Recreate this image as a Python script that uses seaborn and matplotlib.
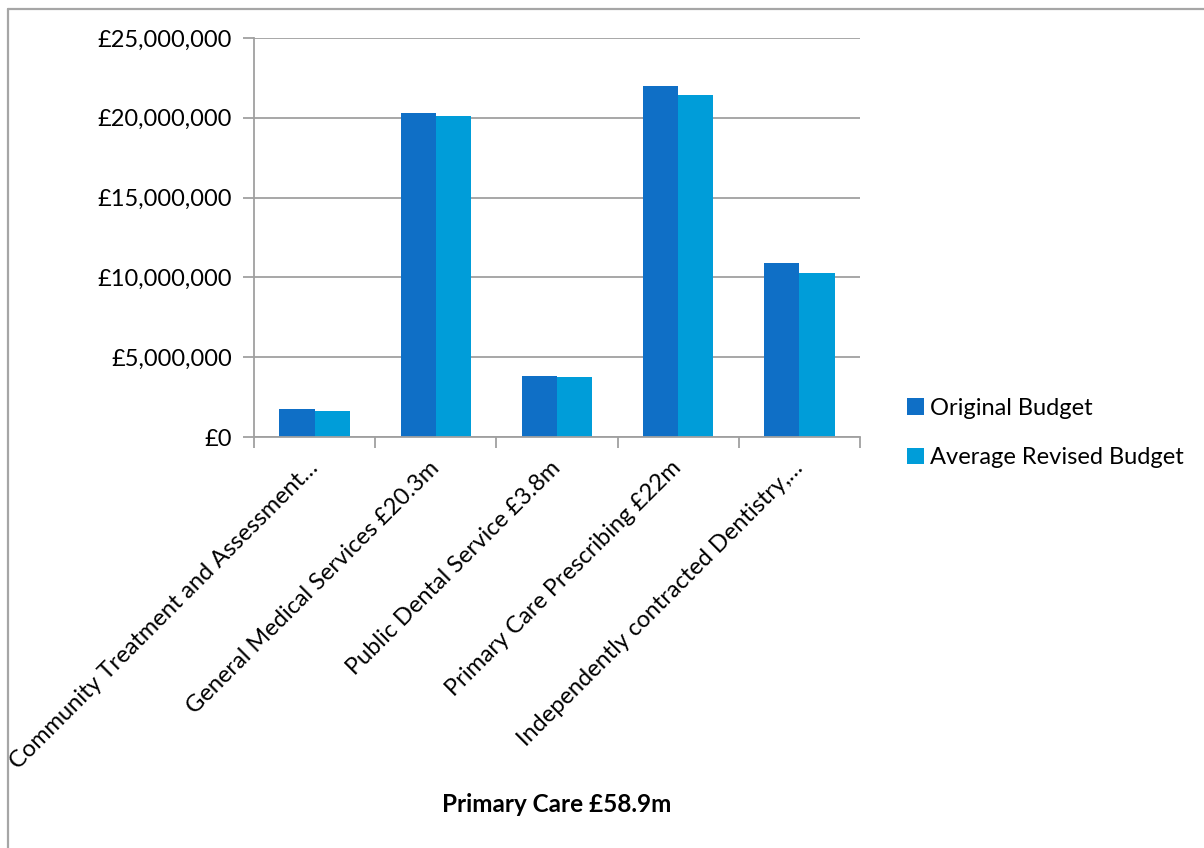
import matplotlib
matplotlib.use("Agg")
import matplotlib.pyplot as plt
import matplotlib.ticker as mticker
from matplotlib.lines import Line2D
from matplotlib.patches import Patch
import seaborn as sns
import pandas as pd

categories = [
    "Community Treatment and Assessment…",
    "General Medical Services £20.3m",
    "Public Dental Service £3.8m",
    "Primary Care Prescribing £22m",
    "Independently contracted Dentistry,…",
]
original_budget = [1740000, 20320000, 3840000, 21990000, 10900000]
revised_budget = [1650000, 20090000, 3780000, 21430000, 10290000]
series_names = ["Original Budget", "Average Revised Budget"]
series_colors = ["#0F6FC6", "#009DD9"]
y_ticks = [0, 5000000, 10000000, 15000000, 20000000, 25000000]
x_title = "Primary Care £58.9m"

df = pd.DataFrame({
    "category": categories * 2,
    "value": original_budget + revised_budget,
    "series": [series_names[0]] * len(categories) + [series_names[1]] * len(categories),
})

sns.set_theme(style="white")
plt.rcParams["font.family"] = ["Lato", "DejaVu Sans"]
plt.rcParams["text.color"] = "black"
plt.rcParams["xtick.color"] = "black"
plt.rcParams["ytick.color"] = "black"
plt.rcParams["axes.labelcolor"] = "black"
fs = 17

fig = plt.figure(figsize=(12.04, 8.48), dpi=100)
ax = fig.add_axes([254 / 1204, 1 - 437 / 848, (860 - 254) / 1204, (437 - 38) / 848])

sns.barplot(data=df, x="category", y="value", hue="series", order=categories,
            hue_order=series_names, palette=series_colors, width=0.58,
            saturation=1, edgecolor="none", linewidth=0, ax=ax, legend=False)

grid_c = "#A0A0A0"
ax.set_ylim(0, 25000000)
ax.set_xlim(-0.5, len(categories) - 0.5)
ax.set_yticks(y_ticks)
ax.yaxis.set_major_formatter(mticker.FuncFormatter(lambda v, p: f"£{int(v):,}"))
ax.grid(axis="y", color=grid_c, linewidth=1.3)
ax.set_axisbelow(True)
for s in ["top", "right"]:
    ax.spines[s].set_visible(False)
for s in ["left", "bottom"]:
    ax.spines[s].set_color(grid_c)
    ax.spines[s].set_linewidth(1.3)

ax.tick_params(axis="y", which="major", length=8, width=1.3, color=grid_c,
               labelcolor="black", labelsize=fs, pad=8, left=True)
ax.set_xticks(range(len(categories)))
ax.set_xticklabels(categories, rotation=45, ha="right", va="center",
                   rotation_mode="anchor", fontsize=fs, color="black")
ax.tick_params(axis="x", which="major", length=0, pad=20, bottom=True)
ax.set_xticks([i - 0.5 for i in range(len(categories) + 1)], minor=True)
ax.tick_params(axis="x", which="minor", length=8, width=1.3, color=grid_c, bottom=True)

ax.set_xlabel(x_title, fontsize=17.5, fontweight="bold", va="center", color="black")
ax.xaxis.set_label_coords(0.5, -0.922)
ax.set_ylabel("")

handles = [Patch(facecolor=c, edgecolor="none", label=n) for n, c in zip(series_names, series_colors)]
fig.legend(handles=handles, loc="center left", bbox_to_anchor=(898 / 1204, 1 - 433 / 848),
           frameon=False, fontsize=fs, handlelength=0.7, handleheight=0.7,
           handletextpad=0.25, labelspacing=1.2, borderaxespad=0, labelcolor="black")

# outer chart frame
fig.add_artist(Line2D([8 / 1204, 8 / 1204], [0, 1 - 9 / 848], transform=fig.transFigure,
                      color="#A6A6A6", linewidth=1.6))
fig.add_artist(Line2D([8 / 1204, 1], [1 - 9 / 848, 1 - 9 / 848], transform=fig.transFigure,
                      color="#A6A6A6", linewidth=1.6))

fig.savefig("out.png", dpi=100, facecolor="white")
